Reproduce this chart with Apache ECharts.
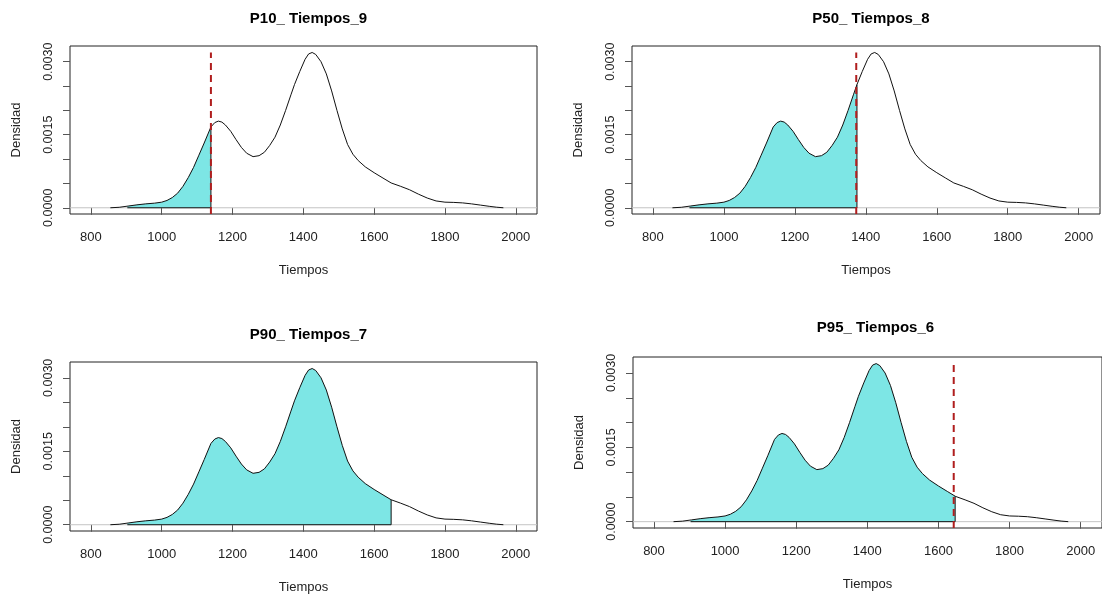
<!DOCTYPE html>
<html><head><meta charset="utf-8">
<script src="https://cdn.jsdelivr.net/npm/echarts@6/dist/echarts.min.js"></script>
<style>html,body{margin:0;padding:0;background:#fff}#c{width:1102px;height:595px}</style>
</head><body><div id="c"></div>
<script>
// ---- data ----
const tiempos = [855, 880, 905, 930, 955, 980, 1000, 1015, 1030, 1045, 1060, 1075, 1090, 1105, 1120, 1139, 1150, 1160, 1170, 1180, 1195, 1210, 1225, 1240, 1258, 1275, 1290, 1305, 1320, 1335, 1350, 1365, 1375, 1390, 1405, 1415, 1425, 1435, 1450, 1465, 1480, 1495, 1510, 1525, 1540, 1555, 1575, 1600, 1625, 1648, 1675, 1700, 1725, 1750, 1775, 1800, 1825, 1850, 1875, 1900, 1925, 1945, 1965];
const densidad = [0.0, 0.00001, 0.000035, 0.00006, 0.00008, 0.000095, 0.000115, 0.00015, 0.00021, 0.0003, 0.00044, 0.00062, 0.00083, 0.00108, 0.00133, 0.00166, 0.00175, 0.00178, 0.00176, 0.0017, 0.00157, 0.0014, 0.00124, 0.00112, 0.00105, 0.00107, 0.00114, 0.00128, 0.00145, 0.0017, 0.002, 0.00232, 0.00253, 0.0028, 0.00305, 0.00316, 0.00319, 0.00315, 0.003, 0.00275, 0.0024, 0.002, 0.00162, 0.0013, 0.0011, 0.00097, 0.00084, 0.00072, 0.00061, 0.00051, 0.00044, 0.00037, 0.00028, 0.0002, 0.00014, 0.000115, 0.00011, 0.0001, 0.00008, 0.000055, 0.00003, 0.000012, 0.0];
const titulos = ['P10_ Tiempos_9', 'P50_ Tiempos_8', 'P90_ Tiempos_7', 'P95_ Tiempos_6'];
const finRelleno = [1139, 1375, 1648, 1647];
const lineaRef = [1139, 1373, null, 1643];
const inicioRelleno = 903;
const xTicks = [800, 1000, 1200, 1400, 1600, 1800, 2000];
const yTicks = [0, 0.0005, 0.001, 0.0015, 0.002, 0.0025, 0.003];
const yLabels = [0, 0.0015, 0.003];
const xLim = [741, 2060];
const yLim = [-0.000128, 0.003323];

// ---- layout ----
const panels = [
  {left: 70, top: 46, width: 467, height: 168, titleTop: 6},
  {left: 632, top: 46, width: 468, height: 168, titleTop: 6},
  {left: 70, top: 362, width: 467, height: 169, titleTop: 322},
  {left: 633, top: 357, width: 475, height: 171, titleTop: 315}
];
const FONT = 'Liberation Sans, Arial, sans-serif';
const TXT = '#222';

function interp(x) {
  for (let i = 0; i < tiempos.length - 1; i++) {
    if (x >= tiempos[i] && x <= tiempos[i + 1]) {
      const t = (x - tiempos[i]) / (tiempos[i + 1] - tiempos[i]);
      return densidad[i] + t * (densidad[i + 1] - densidad[i]);
    }
  }
  return 0;
}
const curve = tiempos.map((x, i) => [x, densidad[i]]);
const peak = Math.max(...densidad);

const option = {
  animation: false,
  backgroundColor: '#fff',
  title: [], grid: [], xAxis: [], yAxis: [], series: []
};

panels.forEach((p, k) => {
  option.title.push({
    text: titulos[k], left: p.left + p.width / 2, top: p.titleTop, textAlign: 'center',
    textStyle: {fontFamily: FONT, fontSize: 15, fontWeight: 'bold', color: '#000'}
  });
  option.grid.push({
    left: p.left, top: p.top, width: p.width, height: p.height,
    show: true, borderColor: '#222', borderWidth: 1, backgroundColor: 'transparent', containLabel: false
  });
  option.xAxis.push({
    gridIndex: k, type: 'value', min: xLim[0], max: xLim[1],
    name: 'Tiempos', nameLocation: 'middle', nameGap: 50,
    nameTextStyle: {fontFamily: FONT, fontSize: 13, color: TXT},
    axisLine: {show: false},
    axisTick: {show: true, inside: false, length: 7, customValues: xTicks, lineStyle: {color: '#555'}},
    axisLabel: {show: true, margin: 17, customValues: xTicks, fontFamily: FONT, fontSize: 13, color: TXT,
      formatter: v => String(v)},
    splitLine: {show: false}
  });
  option.yAxis.push({
    gridIndex: k, type: 'value', min: yLim[0], max: yLim[1],
    name: 'Densidad', nameLocation: 'middle', nameGap: 47, nameRotate: 90,
    nameTextStyle: {fontFamily: FONT, fontSize: 13, color: TXT},
    axisLine: {show: false},
    axisTick: {show: true, inside: false, length: 7, customValues: yTicks, lineStyle: {color: '#555'}},
    axisLabel: {show: true, margin: 15, rotate: 90, customValues: yLabels, fontFamily: FONT, fontSize: 12.5, color: TXT,
      formatter: v => Number(v).toFixed(4)},
    splitLine: {show: false}
  });
  // zero reference line
  option.series.push({
    type: 'line', xAxisIndex: k, yAxisIndex: k, data: [[xLim[0], 0], [xLim[1], 0]],
    symbol: 'none', silent: true, z: 1, lineStyle: {color: '#c4c4c4', width: 1}
  });
  // shaded region
  const q = finRelleno[k];
  const top = [[inicioRelleno, interp(inicioRelleno)]]
    .concat(curve.filter(d => d[0] > inicioRelleno && d[0] < q))
    .concat([[q, interp(q)]]);
  const poly = [[inicioRelleno, 0]].concat(top).concat([[q, 0]]);
  const edge = [[inicioRelleno, 0], [q, 0], [q, interp(q)]];
  option.series.push({
    type: 'custom', xAxisIndex: k, yAxisIndex: k, coordinateSystem: 'cartesian2d',
    data: [[q, 0]], z: 2, silent: true, clip: true,
    renderItem: (params, api) => ({
      type: 'group',
      children: [
        {type: 'polygon', shape: {points: poly.map(pt => api.coord(pt))}, style: {fill: '#7de6e5', stroke: null}},
        {type: 'polyline', shape: {points: edge.map(pt => api.coord(pt))}, style: {fill: null, stroke: '#111', lineWidth: 1}}
      ]
    })
  });
  // density curve
  option.series.push({
    type: 'line', xAxisIndex: k, yAxisIndex: k, data: curve, symbol: 'none', silent: true, z: 3,
    lineStyle: {color: '#111', width: 1}
  });
  // dashed percentile line
  if (lineaRef[k] !== null) {
    option.series.push({
      type: 'line', xAxisIndex: k, yAxisIndex: k, data: [[lineaRef[k], yLim[0]], [lineaRef[k], peak]],
      symbol: 'none', silent: true, z: 4,
      lineStyle: {color: '#b01e1e', width: 2, type: [7, 5]}
    });
  }
});

const chart = echarts.init(document.getElementById('c'), null, {renderer: 'canvas'});
chart.setOption(option);
</script>
</body></html>
